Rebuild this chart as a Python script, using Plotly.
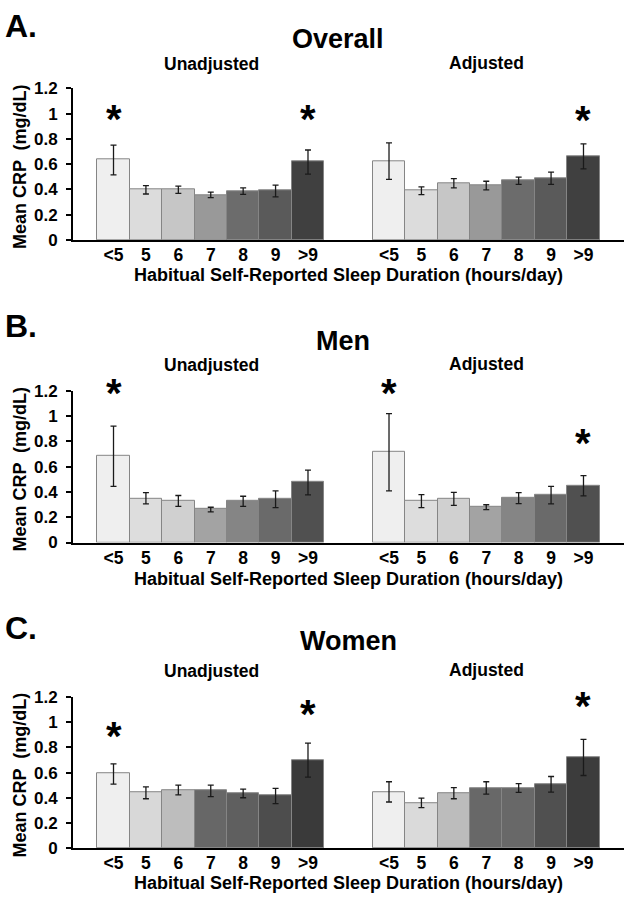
import plotly.graph_objects as go

# ---------------- data ----------------
categories = ["<5", "5", "6", "7", "8", "9", ">9"]

overall_unadj_mean = [0.635, 0.400, 0.400, 0.356, 0.385, 0.390, 0.619]
overall_unadj_hi   = [0.751, 0.431, 0.426, 0.379, 0.413, 0.434, 0.712]
overall_unadj_lo   = [0.516, 0.364, 0.369, 0.335, 0.361, 0.341, 0.521]
overall_adj_mean   = [0.625, 0.390, 0.449, 0.431, 0.472, 0.490, 0.663]
overall_adj_hi     = [0.769, 0.421, 0.485, 0.465, 0.498, 0.537, 0.761]
overall_adj_lo     = [0.480, 0.359, 0.413, 0.397, 0.441, 0.441, 0.563]

men_unadj_mean = [0.684, 0.348, 0.330, 0.263, 0.328, 0.343, 0.477]
men_unadj_hi   = [0.921, 0.395, 0.372, 0.279, 0.366, 0.408, 0.573]
men_unadj_lo   = [0.444, 0.305, 0.286, 0.243, 0.286, 0.276, 0.377]
men_adj_mean   = [0.715, 0.330, 0.348, 0.281, 0.354, 0.374, 0.449]
men_adj_hi     = [1.019, 0.379, 0.397, 0.299, 0.395, 0.444, 0.529]
men_adj_lo     = [0.408, 0.276, 0.294, 0.261, 0.307, 0.305, 0.369]

women_unadj_mean = [0.592, 0.442, 0.462, 0.457, 0.434, 0.418, 0.699]
women_unadj_hi   = [0.670, 0.486, 0.501, 0.501, 0.468, 0.475, 0.834]
women_unadj_lo   = [0.509, 0.392, 0.423, 0.408, 0.400, 0.353, 0.564]
women_adj_mean   = [0.447, 0.358, 0.436, 0.478, 0.478, 0.506, 0.719]
women_adj_hi     = [0.527, 0.397, 0.481, 0.527, 0.512, 0.569, 0.865]
women_adj_lo     = [0.366, 0.322, 0.392, 0.429, 0.442, 0.444, 0.577]

# significant categories (asterisks) and the level of each asterisk
overall_unadj_sig = ["<5", ">9"]
overall_unadj_star = [0.96, 0.96]
overall_adj_sig = [">9"]
overall_adj_star = [0.95]
men_unadj_sig = ["<5"]
men_unadj_star = [1.18]
men_adj_sig = ["<5", ">9"]
men_adj_star = [1.18, 0.79]
women_unadj_sig = ["<5", ">9"]
women_unadj_star = [0.89, 1.07]
women_adj_sig = [">9"]
women_adj_star = [1.13]

y_ticks = [0, 0.2, 0.4, 0.6, 0.8, 1.0, 1.2]
y_tick_labels = ["0", "0.2", "0.4", "0.6", "0.8", "1", "1.2"]

panel_letters = ["A.", "B.", "C."]
panel_titles = ["Overall", "Men", "Women"]
group_titles = ["Unadjusted", "Adjusted"]
x_title = "Habitual Self-Reported Sleep Duration (hours/day)"
y_title = "Mean CRP  (mg/dL)"

# ---------------- styles ----------------
W, H = 625, 904
FONT = "Liberation Sans, Arial, sans-serif"
colors_overall = ["#efefef", "#dcdcdc", "#c6c6c6", "#999999", "#6c6c6c", "#5a5a5a", "#404040"]
colors_men = ["#efefef", "#dddddd", "#d0d0d0", "#a3a3a3", "#858585", "#6a6a6a", "#505050"]
colors_women_u = ["#efefef", "#d8d8d8", "#bdbdbd", "#676767", "#5f5f5f", "#4d4d4d", "#3a3a3a"]
colors_women_a = ["#efefef", "#dadada", "#bcbcbc", "#686868", "#686868", "#505050", "#3c3c3c"]

panels = [
    dict(u=(overall_unadj_mean, overall_unadj_hi, overall_unadj_lo, overall_unadj_sig, overall_unadj_star, colors_overall),
         a=(overall_adj_mean, overall_adj_hi, overall_adj_lo, overall_adj_sig, overall_adj_star, colors_overall),
         top=81, bot=236, letter_y=17, title_y=31, title_x=338, sub_y=56, xt_y=272),
    dict(u=(men_unadj_mean, men_unadj_hi, men_unadj_lo, men_unadj_sig, men_unadj_star, colors_men),
         a=(men_adj_mean, men_adj_hi, men_adj_lo, men_adj_sig, men_adj_star, colors_men),
         top=390, bot=545, letter_y=324, title_y=339, title_x=343, sub_y=364, xt_y=582),
    dict(u=(women_unadj_mean, women_unadj_hi, women_unadj_lo, women_unadj_sig, women_unadj_star, colors_women_u),
         a=(women_adj_mean, women_adj_hi, women_adj_lo, women_adj_sig, women_adj_star, colors_women_a),
         top=703, bot=857, letter_y=632, title_y=646, title_x=348, sub_y=676, xt_y=893),
]

n = len(categories)
pos_u = list(range(n))
gap = 1.5
pos_a = [n + gap + i for i in range(n)]

fig = go.Figure()
layout = dict(width=W, height=H, margin=dict(l=0, r=0, t=0, b=0),
              paper_bgcolor="white", plot_bgcolor="white", showlegend=False,
              bargap=0, annotations=[])

def py(px):
    return 1 - px / H

def pxx(px):
    return px / W

for k, p in enumerate(panels):
    sfx = "" if k == 0 else str(k + 1)
    xa, ya = "x" + sfx, "y" + sfx
    for pos, grp in ((pos_u, p["u"]), (pos_a, p["a"])):
        mean, hi, lo, sig, star, cols = grp
        fig.add_trace(go.Bar(
            x=pos, y=mean, width=1.0, xaxis=xa, yaxis=ya,
            marker=dict(color=cols, line=dict(color="#858585", width=1)),
            error_y=dict(type="data", symmetric=False,
                         array=[h - m for h, m in zip(hi, mean)],
                         arrayminus=[m - l for m, l in zip(mean, lo)],
                         color="#1a1a1a", thickness=1.3, width=3),
            hoverinfo="skip"))
        for c, lvl in zip(sig, star):
            i = categories.index(c)
            layout["annotations"].append(dict(
                x=pos[i], y=lvl, xref=xa, yref=ya, text="*", showarrow=False,
                font=dict(family=FONT, size=40, color="black", weight="bold"),
                xanchor="center", yanchor="middle", yshift=0))
    layout["xaxis" + sfx] = dict(
        domain=[pxx(73), pxx(624)], range=[-1.25, pos_a[-1] + 1.25],
        anchor=ya, showline=True, linecolor="black", linewidth=2,
        showgrid=False, zeroline=False, ticks="",
        tickvals=pos_u + pos_a, ticktext=categories + categories,
        tickfont=dict(family=FONT, size=17.5, color="black", weight="bold"),
        ticklabelstandoff=-2, fixedrange=True)
    layout["yaxis" + sfx] = dict(
        domain=[py(p["bot"]), py(p["top"])], range=[0, 1.2], anchor=xa,
        showline=True, linecolor="black", linewidth=2, showgrid=False,
        zeroline=False, ticks="outside", ticklen=5, tickwidth=1.5, tickcolor="black",
        tickvals=y_ticks, ticktext=y_tick_labels,
        tickfont=dict(family=FONT, size=17, color="black", weight="bold"),
        ticklabelstandoff=5, fixedrange=True)
    ann = layout["annotations"]
    ann.append(dict(x=pxx(3), y=py(p["letter_y"]), xref="paper", yref="paper",
                    text=panel_letters[k], showarrow=False, xanchor="left", yanchor="middle",
                    font=dict(family=FONT, size=32, color="black", weight="bold")))
    ann.append(dict(x=pxx(p["title_x"]), y=py(p["title_y"]), xref="paper", yref="paper",
                    text=panel_titles[k], showarrow=False, xanchor="center", yanchor="middle",
                    font=dict(family=FONT, size=27, color="black", weight="bold")))
    ann.append(dict(x=pxx(211), y=py(p["sub_y"]), xref="paper", yref="paper",
                    text=group_titles[0], showarrow=False, xanchor="center", yanchor="middle",
                    font=dict(family=FONT, size=17.5, color="black", weight="bold")))
    ann.append(dict(x=pxx(486), y=py(p["sub_y"] - 1), xref="paper", yref="paper",
                    text=group_titles[1], showarrow=False, xanchor="center", yanchor="middle",
                    font=dict(family=FONT, size=17.5, color="black", weight="bold")))
    ann.append(dict(x=pxx(348), y=py(p["xt_y"]), xref="paper", yref="paper",
                    text=x_title, showarrow=False, xanchor="center", yanchor="middle",
                    font=dict(family=FONT, size=18, color="black", weight="bold")))
    ann.append(dict(x=pxx(20), y=py((p["top"] + p["bot"]) / 2 + 3), xref="paper", yref="paper",
                    text=y_title, showarrow=False, xanchor="center", yanchor="middle",
                    textangle=-90,
                    font=dict(family=FONT, size=18, color="black", weight="bold")))

fig.update_layout(**layout)
fig.write_html("out.html", config={"displayModeBar": False},
               post_script="document.body.style.margin='0px';document.body.style.padding='0px';")
